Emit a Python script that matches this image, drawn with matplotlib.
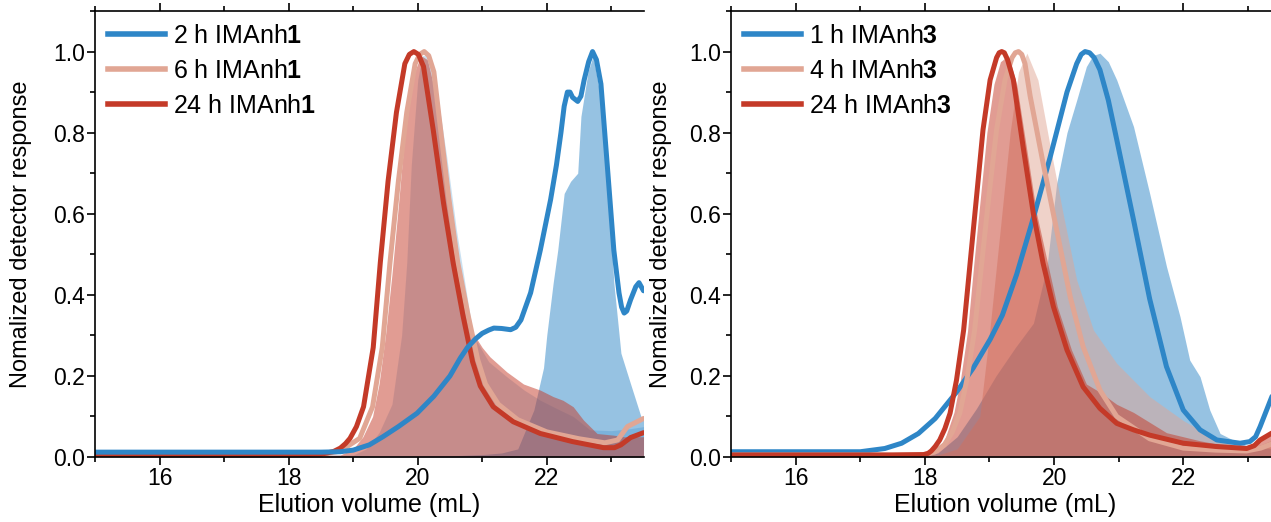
#!/usr/bin/env python

import sys
import numpy as np
import matplotlib
matplotlib.use('Agg')
import matplotlib.pyplot as plt
from matplotlib.ticker import MultipleLocator, FormatStrFormatter

# colours of the three time points
BLUE = '#2E86C7'
SALMON = '#E1A694'
RED = '#C43A28'

# ---- left panel: IMAnh1 (line = one detector, fill = the other) ----
left_labels = ['2 h IMAnh$\\mathbf{1}$', '6 h IMAnh$\\mathbf{1}$', '24 h IMAnh$\\mathbf{1}$']

l2_v = [15.0, 18.0, 18.5, 18.8, 19.0, 19.25, 19.46, 19.7, 19.99, 20.25, 20.5, 20.66, 20.77, 20.9,
        21.0, 21.1, 21.18, 21.3, 21.44, 21.52, 21.6, 21.75, 21.9, 22.06, 22.15, 22.22, 22.27,
        22.32, 22.36, 22.4, 22.48, 22.53, 22.58, 22.65, 22.71, 22.77, 22.84, 22.94, 23.04, 23.12,
        23.16, 23.2, 23.24, 23.3, 23.38, 23.43, 23.5]
l2_r = [0.012, 0.012, 0.012, 0.013, 0.017, 0.03, 0.05, 0.075, 0.108, 0.15, 0.2, 0.244, 0.27, 0.292,
        0.305, 0.313, 0.318, 0.317, 0.314, 0.32, 0.338, 0.405, 0.51, 0.635, 0.72, 0.8, 0.865,
        0.9, 0.9, 0.887, 0.877, 0.89, 0.93, 0.975, 1.0, 0.98, 0.92, 0.716, 0.51, 0.405,
        0.37, 0.355, 0.36, 0.388, 0.42, 0.43, 0.41]

l6_v = [15.0, 18.5, 18.8, 19.1, 19.3, 19.45, 19.57, 19.7, 19.83, 19.96, 20.03, 20.1, 20.17, 20.25,
        20.33, 20.48, 20.62, 20.78, 20.93, 21.05, 21.25, 21.55, 22.0, 22.5, 22.9, 23.1, 23.25, 23.5]
l6_r = [0.005, 0.005, 0.015, 0.046, 0.124, 0.27, 0.48, 0.68, 0.85, 0.97, 0.993, 1.0, 0.99, 0.95,
        0.84, 0.64, 0.48, 0.35, 0.24, 0.18, 0.13, 0.092, 0.062, 0.045, 0.035, 0.042, 0.075, 0.095]

l24_v = [15.0, 18.0, 18.5, 18.6, 18.7, 18.8, 18.88, 18.95, 19.05, 19.16, 19.31, 19.42, 19.54, 19.67,
         19.8, 19.87, 19.94, 20.01, 20.09, 20.24, 20.4, 20.55, 20.7, 20.85, 20.97, 21.17, 21.48,
         21.9, 22.4, 22.88, 23.05, 23.15, 23.3, 23.5]
l24_r = [0.005, 0.005, 0.007, 0.01, 0.014, 0.022, 0.033, 0.046, 0.075, 0.124, 0.27, 0.48, 0.68, 0.85,
         0.97, 0.993, 1.0, 0.993, 0.963, 0.807, 0.626, 0.478, 0.35, 0.235, 0.175, 0.124, 0.087,
         0.058, 0.038, 0.023, 0.023, 0.03, 0.048, 0.06]

f2_v = [15.0, 20.5, 21.0, 21.3, 21.55, 21.8, 21.95, 22.0, 22.1, 22.17, 22.27, 22.37, 22.48, 22.53,
        22.64, 22.72, 22.84, 22.95, 23.04, 23.15, 23.3, 23.46, 23.5]
f2_r = [0.0, 0.003, 0.006, 0.01, 0.02, 0.116, 0.22, 0.3, 0.43, 0.51, 0.65, 0.68, 0.70, 0.84,
        0.95, 0.99, 0.88, 0.675, 0.43, 0.256, 0.18, 0.1, 0.09]

f6_v = [15.0, 19.0, 19.2, 19.4, 19.6, 19.75, 19.83, 19.9, 20.0, 20.07, 20.15, 20.3, 20.45, 20.6,
        20.75, 20.86, 21.1, 21.38, 21.65, 21.9, 22.15, 22.41, 22.67, 23.0, 23.3, 23.5]
f6_r = [0.0, 0.005, 0.02, 0.06, 0.13, 0.3, 0.48, 0.72, 0.93, 0.99, 0.99, 0.9, 0.74, 0.56,
        0.41, 0.3, 0.235, 0.198, 0.165, 0.14, 0.12, 0.1, 0.067, 0.065, 0.07, 0.075]

f24_v = [15.0, 18.8, 19.0, 19.15, 19.3, 19.4, 19.5, 19.6, 19.7, 19.8, 19.95, 20.05, 20.15, 20.3,
         20.45, 20.6, 20.72, 20.86, 21.0, 21.12, 21.38, 21.64, 21.9, 22.1, 22.25, 22.41, 22.57,
         22.78, 23.03, 23.2, 23.5]
f24_r = [0.0, 0.005, 0.02, 0.05, 0.1, 0.18, 0.3, 0.45, 0.62, 0.8, 0.95, 0.99, 0.98, 0.88,
         0.7, 0.5, 0.39, 0.305, 0.27, 0.247, 0.21, 0.18, 0.165, 0.149, 0.14, 0.124, 0.091,
         0.058, 0.054, 0.05, 0.05]

# ---- right panel: IMAnh3 ----
right_labels = ['1 h IMAnh$\\mathbf{3}$', '4 h IMAnh$\\mathbf{3}$', '24 h IMAnh$\\mathbf{3}$']

r1_v = [15.0, 16.0, 17.0, 17.38, 17.64, 17.9, 18.16, 18.49, 18.75, 19.01, 19.2, 19.42, 19.68,
        19.94, 20.2, 20.35, 20.42, 20.48, 20.55, 20.62, 20.71, 20.84, 20.97, 21.23, 21.48, 21.74,
        22.0, 22.26, 22.52, 22.88, 23.03, 23.12, 23.19, 23.35, 23.5]
r1_r = [0.013, 0.013, 0.013, 0.021, 0.034, 0.058, 0.095, 0.16, 0.22, 0.29, 0.35, 0.45, 0.59,
        0.74, 0.9, 0.97, 0.993, 1.0, 0.997, 0.985, 0.955, 0.88, 0.783, 0.585, 0.39, 0.223,
        0.116, 0.067, 0.042, 0.034, 0.038, 0.05, 0.075, 0.14, 0.2]

r4_v = [15.0, 17.5, 18.0, 18.15, 18.3, 18.42, 18.54, 18.65, 18.77, 18.88, 18.99, 19.11, 19.24,
        19.35, 19.4, 19.45, 19.5, 19.55, 19.63, 19.83, 20.04, 20.25, 20.45, 20.71, 20.97, 21.48,
        22.0, 22.5, 22.98, 23.2, 23.5]
r4_r = [0.005, 0.005, 0.006, 0.012, 0.03, 0.06, 0.108, 0.19, 0.313, 0.478, 0.642, 0.807, 0.93,
        0.985, 0.997, 1.0, 0.993, 0.97, 0.89, 0.725, 0.56, 0.395, 0.272, 0.165, 0.1, 0.045,
        0.022, 0.017, 0.015, 0.022, 0.04]

r24_v = [15.0, 17.5, 17.98, 18.05, 18.1, 18.16, 18.23, 18.31, 18.39, 18.49, 18.6, 18.7, 18.8, 18.9,
         19.01, 19.11, 19.15, 19.19, 19.23, 19.28, 19.37, 19.52, 19.68, 19.83, 19.99, 20.2, 20.45,
         20.71, 20.97, 21.23, 21.48, 22.0, 22.5, 22.98, 23.1, 23.19, 23.36, 23.5]
r24_r = [0.005, 0.005, 0.006, 0.009, 0.015, 0.026, 0.042, 0.07, 0.108, 0.19, 0.313, 0.478, 0.642,
         0.807, 0.93, 0.985, 0.997, 1.0, 0.997, 0.98, 0.93, 0.766, 0.6, 0.478, 0.371, 0.264, 0.173,
         0.12, 0.083, 0.067, 0.054, 0.034, 0.026, 0.021, 0.028, 0.042, 0.058, 0.07]

rf1_v = [15.0, 17.8, 18.2, 18.5, 18.8, 19.1, 19.4, 19.68, 19.89, 20.04, 20.2, 20.35, 20.5, 20.6,
         20.71, 20.84, 20.97, 21.23, 21.48, 21.74, 21.95, 22.1, 22.26, 22.41, 22.57, 22.77, 23.03, 23.5]
rf1_r = [0.0, 0.0, 0.01, 0.05, 0.12, 0.2, 0.27, 0.33, 0.47, 0.675, 0.8, 0.88, 0.963, 0.99,
         0.996, 0.975, 0.93, 0.815, 0.65, 0.47, 0.346, 0.239, 0.198, 0.116, 0.058, 0.042, 0.025, 0.02]

rf4_v = [15.0, 18.2, 18.5, 18.85, 19.0, 19.16, 19.32, 19.45, 19.58, 19.75, 19.94, 20.14, 20.35,
         20.61, 20.97, 21.48, 22.0, 22.52, 22.98, 23.2, 23.5]
rf4_r = [0.0, 0.005, 0.02, 0.1, 0.305, 0.55, 0.8, 0.95, 0.996, 0.93, 0.766, 0.6, 0.437,
         0.313, 0.231, 0.149, 0.09, 0.042, 0.02, 0.03, 0.05]

rf24_v = [15.0, 17.9, 18.1, 18.3, 18.45, 18.55, 18.66, 18.76, 18.86, 18.96, 19.07, 19.17, 19.25,
          19.33, 19.42, 19.57, 19.73, 19.9, 20.05, 20.27, 20.5, 20.71, 20.97, 21.23, 21.74, 22.26,
          22.77, 23.0, 23.2, 23.36, 23.5]
rf24_r = [0.0, 0.003, 0.01, 0.04, 0.11, 0.19, 0.31, 0.48, 0.64, 0.8, 0.92, 0.975, 0.985,
          0.97, 0.92, 0.766, 0.6, 0.478, 0.371, 0.264, 0.18, 0.16, 0.13, 0.11, 0.06, 0.04,
          0.025, 0.02, 0.04, 0.06, 0.07]


def style_axes(ax):
    ax.set_xlim(15, 23.5)
    ax.set_ylim(0, 1.1)
    ax.xaxis.set_major_locator(MultipleLocator(2))
    ax.xaxis.set_minor_locator(MultipleLocator(1))
    ax.yaxis.set_major_locator(MultipleLocator(0.2))
    ax.yaxis.set_minor_locator(MultipleLocator(0.1))
    ax.yaxis.set_major_formatter(FormatStrFormatter('%.1f'))
    ax.tick_params(which='both', direction='out', labelsize=16.5, width=1.2,
                   top=True, labeltop=False, pad=1.5)
    ax.tick_params(which='major', length=6)
    ax.tick_params(which='minor', length=3.5)
    ax.spines['right'].set_visible(False)
    for s in ['left', 'bottom', 'top']:
        ax.spines[s].set_linewidth(1.2)
    ax.set_xlabel('Elution volume (mL)', fontsize=18)
    ax.set_ylabel('Nomalized detector response', fontsize=17)
    ax.xaxis.set_label_coords(0.5, -0.08)


def main():
    plt.rcParams['font.family'] = ['Liberation Sans', 'DejaVu Sans']
    plt.rcParams['mathtext.fontset'] = 'custom'
    plt.rcParams['mathtext.rm'] = 'Liberation Sans'
    plt.rcParams['mathtext.bf'] = 'Liberation Sans:bold'

    fig = plt.figure(figsize=(12.71, 5.22), dpi=100)
    ax1 = fig.add_axes([0.0749, 0.1245, 0.4314, 0.8544])
    ax2 = fig.add_axes([0.5752, 0.1245, 0.4320, 0.8544])

    kw = dict(lw=3.6, solid_joinstyle='round', solid_capstyle='round')

    # left: fills first, lines on top
    ax1.fill_between(f2_v, f2_r, color=BLUE, alpha=0.5, lw=0)
    ax1.fill_between(f6_v, f6_r, color=BLUE, alpha=0.25, lw=0)
    ax1.fill_between(f24_v, f24_r, color=RED, alpha=0.5, lw=0)
    ax1.plot(l6_v, l6_r, color=SALMON, **kw)
    ax1.plot(l24_v, l24_r, color=RED, **kw)
    ax1.plot(l2_v, l2_r, color=BLUE, **kw)

    # right
    ax2.fill_between(rf1_v, rf1_r, color=BLUE, alpha=0.5, lw=0)
    ax2.fill_between(rf4_v, rf4_r, color=SALMON, alpha=0.5, lw=0)
    ax2.fill_between(rf24_v, rf24_r, color=RED, alpha=0.5, lw=0)
    ax2.plot(r1_v, r1_r, color=BLUE, **kw)
    ax2.plot(r4_v, r4_r, color=SALMON, **kw)
    ax2.plot(r24_v, r24_r, color=RED, **kw)

    for ax, labels in [(ax1, left_labels), (ax2, right_labels)]:
        style_axes(ax)
        handles = [plt.Line2D([], [], color=c, lw=4) for c in (BLUE, SALMON, RED)]
        ax.legend(handles, labels, loc='upper left', frameon=False, fontsize=18,
                  handlelength=2.3, handletextpad=0.3, labelspacing=0.45,
                  borderaxespad=0.0, borderpad=0.5)
    # ylabel anchor is the right-hand edge of the rotated text
    ax1.yaxis.set_label_coords(-0.115, 0.5)
    ax2.yaxis.set_label_coords(-0.108, 0.5)

    fig.savefig('out.png', dpi=100)
    return 0


if __name__ == "__main__":
    sys.exit(main())
